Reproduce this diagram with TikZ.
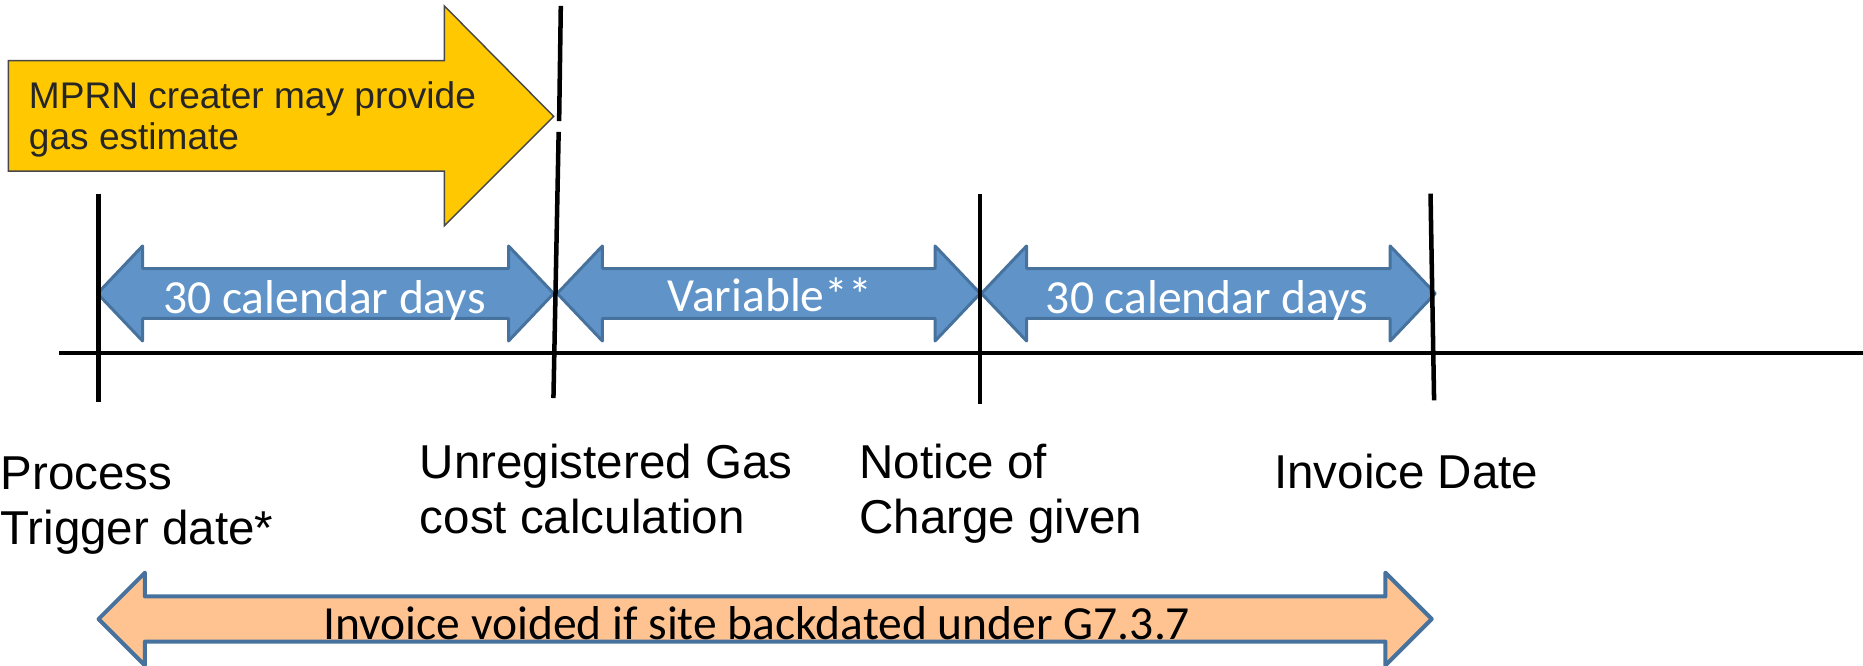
\documentclass[tikz,border=0pt]{standalone}
\usepackage{fontspec}
\setmainfont{Liberation Sans}
\newfontfamily\calibri{Carlito}
\definecolor{bluefill}{HTML}{6094C9}
\definecolor{blueline}{HTML}{46729D}
\definecolor{orangefill}{HTML}{FEC391}
\definecolor{yellowfill}{HTML}{FFC800}
\definecolor{darktext}{HTML}{262626}
\tikzset{
  tick/.style={line width=1.9pt, black},
  bluearrow/.style={fill=bluefill, draw=blueline, line width=1.25pt, line join=round},
  orangearrow/.style={fill=orangefill, draw=blueline, line width=1.7pt, line join=round},
  yellowarrow/.style={fill=yellowfill, draw=darktext!85!white, line width=0.6pt},
  blabel/.style={font=\fontsize{20}{23.5}\selectfont, text=black, inner sep=0pt, anchor=base west},
  arrowtext/.style={font=\calibri\fontsize{20}{24}\selectfont, inner sep=0pt, anchor=base},
  ytext/.style={font=\fontsize{15.6}{17.5}\selectfont, text=darktext, inner sep=0pt, anchor=base west}
}
\begin{document}
\begin{tikzpicture}[x=0.5pt,y=-0.5pt]
\useasboundingbox (0,0) rectangle (1568,560.5);
% yellow arrow
\draw[yellowarrow] (7,51) -- (374,51) -- (374,5) -- (466,98) -- (374,190) -- (374,144) -- (7,144) -- cycle;
\node[ytext] (y1) at (24,91) {MPRN creater may provide};
\node[ytext] (y2) at (24,126) {gas estimate};
% blue double arrows
\path[bluearrow] (82,247) -- (120,207) -- (120,226) -- (428,226) -- (428,207) -- (466,247)
   -- (428,287) -- (428,268) -- (120,268) -- (120,287) -- cycle;
\path[bluearrow] (469,247) -- (507,207) -- (507,226) -- (787,226) -- (787,207) -- (825,247)
   -- (787,287) -- (787,268) -- (507,268) -- (507,287) -- cycle;
\path[bluearrow] (826,247) -- (864,207) -- (864,226) -- (1170,226) -- (1170,207) -- (1208,247)
   -- (1170,287) -- (1170,268) -- (864,268) -- (864,287) -- cycle;
\node[arrowtext, text=white] (t1) at (273,264) {30 calendar days};
\node[arrowtext, text=white] (t2) at (648,262) {Variable**};
\node[arrowtext, text=white] (t3) at (1016,264) {30 calendar days};
% orange double arrow
\path[orangearrow] (83,521) -- (122,482) -- (122,502) -- (1166,502) -- (1166,482) -- (1205,521)
   -- (1166,560) -- (1166,540) -- (122,540) -- (122,560) -- cycle;
\node[arrowtext, text=black] (t4) at (637,538) {Invoice voided if site backdated under G7.3.7};
% timeline
\coordinate (hl) at (50,297);
\coordinate (hr) at (1570,297);
\draw[tick] (hl) -- (hr);
\coordinate (k1a) at (83,163); \coordinate (k1b) at (83,338);
\coordinate (k2a) at (472,5); \coordinate (k2b) at (470.6,102);
\coordinate (k2c) at (470.2,111); \coordinate (k2d) at (465.8,335);
\coordinate (k3a) at (825,163); \coordinate (k3b) at (825,340);
\coordinate (k4a) at (1204,163); \coordinate (k4b) at (1207,337);
\draw[tick] (k1a) -- (k1b);
\draw[tick] (k2a) -- (k2b);
\draw[tick] (k2c) -- (k2d);
\draw[tick] (k3a) -- (k3b);
\draw[tick] (k4a) -- (k4b);
% labels
\node[blabel] (l1a) at (0,412) {Process};
\node[blabel] (l1b) at (0,458) {Trigger date*};
\node[blabel] (l2a) at (353,403) {Unregistered Gas};
\node[blabel] (l2b) at (353,449) {cost calculation};
\node[blabel] (l3a) at (723,403) {Notice of};
\node[blabel] (l3b) at (723,449) {Charge given};
\node[blabel] (l4a) at (1072,411) {Invoice Date};
\end{tikzpicture}
\end{document}
